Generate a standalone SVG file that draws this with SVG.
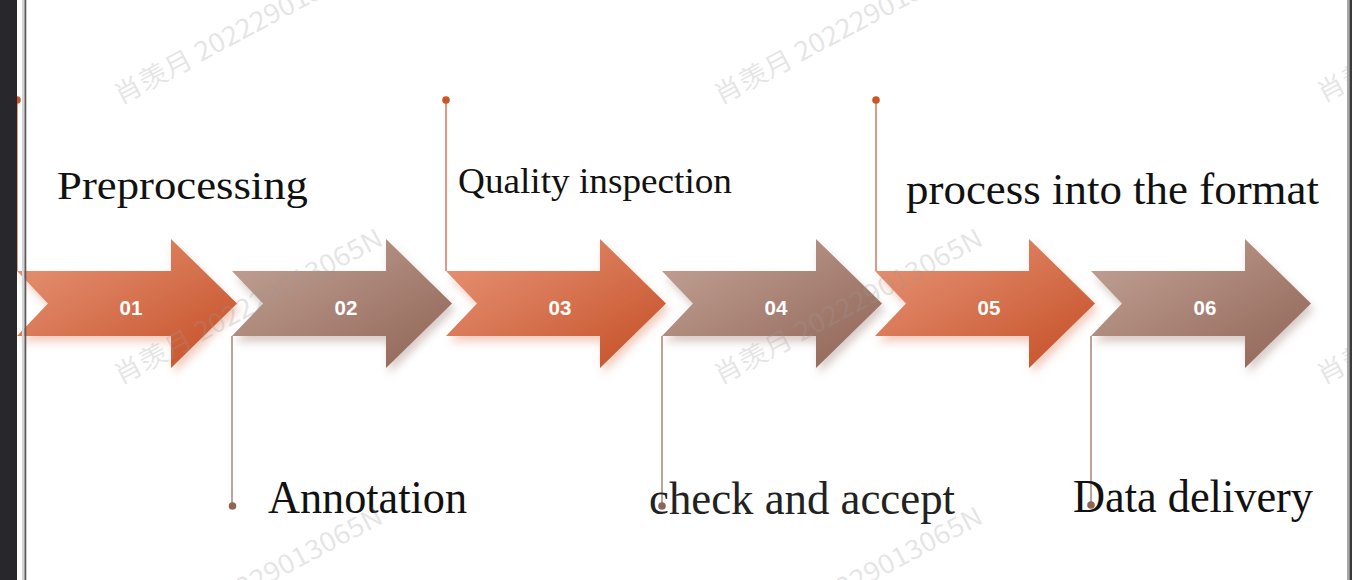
<svg xmlns="http://www.w3.org/2000/svg" xmlns:xlink="http://www.w3.org/1999/xlink" width="1352" height="580" viewBox="0 0 1352 580">
  <style>
    .lbl { font-family: "Liberation Serif", "Times New Roman", serif; fill: #111; }
    .num { font-family: "Liberation Sans", Arial, sans-serif; font-weight: bold; font-size: 20.5px; fill: #ffffff; text-anchor: middle; }
    .wm { font-family: "Noto Sans CJK SC", "Noto Sans", sans-serif; font-size: 26px; fill: #9a9a9a; fill-opacity: 0.26; }
    .ln-o { stroke: #d0643f; stroke-width: 1.3; fill: none; }
    .ln-b { stroke: #9a7265; stroke-width: 1.3; fill: none; }
    .dot-o { fill: #cc5427; }
    .dot-b { fill: #8e6456; }
  </style>
  <defs>
    <linearGradient id="gO" x1="0" y1="0" x2="1" y2="1">
      <stop offset="0" stop-color="#e8977a"/>
      <stop offset="1" stop-color="#c44e25"/>
    </linearGradient>
    <linearGradient id="gB" x1="0" y1="0" x2="1" y2="1">
      <stop offset="0" stop-color="#c4a598"/>
      <stop offset="1" stop-color="#8f6355"/>
    </linearGradient>
    <filter id="shO" x="-10%" y="-10%" width="130%" height="140%">
      <feDropShadow dx="3" dy="6" stdDeviation="4" flood-color="#d9704a" flood-opacity="0.35"/>
    </filter>
    <filter id="shB" x="-10%" y="-10%" width="130%" height="140%">
      <feDropShadow dx="3" dy="6" stdDeviation="4" flood-color="#8e6a5e" flood-opacity="0.35"/>
    </filter>
    <path id="arrow" d="M0,271 L154,271 L154,239 L220,303.5 L154,368 L154,336 L0,336 L31,303.5 Z"/>
  </defs>

  <rect x="0" y="0" width="1352" height="580" fill="#ffffff"/>

  <!-- connectors -->
  <g id="connectors">
    <line class="ln-o" x1="17" y1="100" x2="17" y2="271"/>
    <circle class="dot-o" cx="17" cy="100" r="3.8"/>
    <line class="ln-b" x1="232" y1="336" x2="232" y2="506"/>
    <circle class="dot-b" cx="232.5" cy="506" r="3.8"/>
    <line class="ln-o" x1="446" y1="100" x2="446" y2="271"/>
    <circle class="dot-o" cx="446" cy="100" r="3.8"/>
    <line class="ln-b" x1="662" y1="336" x2="662" y2="506"/>
    <circle class="dot-b" cx="662" cy="506" r="3.8"/>
    <line class="ln-o" x1="876" y1="100" x2="876" y2="271"/>
    <circle class="dot-o" cx="876" cy="100" r="3.8"/>
    <line class="ln-b" x1="1091" y1="336" x2="1091" y2="505"/>
    <circle class="dot-b" cx="1091" cy="505" r="3.8"/>
  </g>

  <!-- nodes -->
  <g id="step01">
    <use xlink:href="#arrow" href="#arrow" x="17" fill="url(#gO)" filter="url(#shO)"/>
    <text class="num" x="131" y="315">01</text>
    <text class="lbl" x="57" y="199" font-size="40" textLength="251" lengthAdjust="spacingAndGlyphs">Preprocessing</text>
  </g>
  <g id="step02">
    <use xlink:href="#arrow" href="#arrow" x="232" fill="url(#gB)" filter="url(#shB)"/>
    <text class="num" x="346" y="315">02</text>
    <text class="lbl" x="268" y="513" font-size="47" textLength="199" lengthAdjust="spacingAndGlyphs">Annotation</text>
  </g>
  <g id="step03">
    <use xlink:href="#arrow" href="#arrow" x="446" fill="url(#gO)" filter="url(#shO)"/>
    <text class="num" x="560" y="315">03</text>
    <text class="lbl" x="458" y="193" font-size="36" textLength="274" lengthAdjust="spacingAndGlyphs">Quality inspection</text>
  </g>
  <g id="step04">
    <use xlink:href="#arrow" href="#arrow" x="662" fill="url(#gB)" filter="url(#shB)"/>
    <text class="num" x="776" y="315">04</text>
    <text class="lbl" x="649" y="514" font-size="46" textLength="306" lengthAdjust="spacingAndGlyphs" style="fill:#222">check and accept</text>
  </g>
  <g id="step05">
    <use xlink:href="#arrow" href="#arrow" x="875" fill="url(#gO)" filter="url(#shO)"/>
    <text class="num" x="989" y="315">05</text>
    <text class="lbl" x="906" y="204" font-size="44" textLength="413" lengthAdjust="spacingAndGlyphs">process into the format</text>
  </g>
  <g id="step06">
    <use xlink:href="#arrow" href="#arrow" x="1091" fill="url(#gB)" filter="url(#shB)"/>
    <text class="num" x="1205" y="315">06</text>
    <text class="lbl" x="1073" y="512" font-size="46" textLength="240" lengthAdjust="spacingAndGlyphs">Data delivery</text>
  </g>

  <!-- watermark -->
  <g id="watermark">
    <text class="wm" transform="translate(120,105) rotate(-28)" textLength="300" lengthAdjust="spacingAndGlyphs">肖羡月 202229013065N</text>
    <text class="wm" transform="translate(720,105) rotate(-28)" textLength="300" lengthAdjust="spacingAndGlyphs">肖羡月 202229013065N</text>
    <text class="wm" transform="translate(1323,103) rotate(-28)" textLength="300" lengthAdjust="spacingAndGlyphs">肖羡月 202229013065N</text>
    <text class="wm" transform="translate(120,385) rotate(-28)" textLength="300" lengthAdjust="spacingAndGlyphs">肖羡月 202229013065N</text>
    <text class="wm" transform="translate(720,385) rotate(-28)" textLength="300" lengthAdjust="spacingAndGlyphs">肖羡月 202229013065N</text>
    <text class="wm" transform="translate(1323,385) rotate(-28)" textLength="300" lengthAdjust="spacingAndGlyphs">肖羡月 202229013065N</text>
    <text class="wm" transform="translate(120,663) rotate(-28)" textLength="300" lengthAdjust="spacingAndGlyphs">肖羡月 202229013065N</text>
    <text class="wm" transform="translate(720,663) rotate(-28)" textLength="300" lengthAdjust="spacingAndGlyphs">肖羡月 202229013065N</text>
  </g>

  <!-- window frame edges -->
  <rect x="0" y="0" width="17" height="580" fill="#28272c"/>
  <rect x="22" y="0" width="2.5" height="580" fill="#d4d4d4"/>
  <rect x="24.5" y="0" width="1.8" height="580" fill="#5a5a5a"/>
  <rect x="1347" y="0" width="2.5" height="580" fill="#a8a8a8"/>
  <rect x="1349.5" y="0" width="2.5" height="580" fill="#3a3a3a"/>
</svg>
